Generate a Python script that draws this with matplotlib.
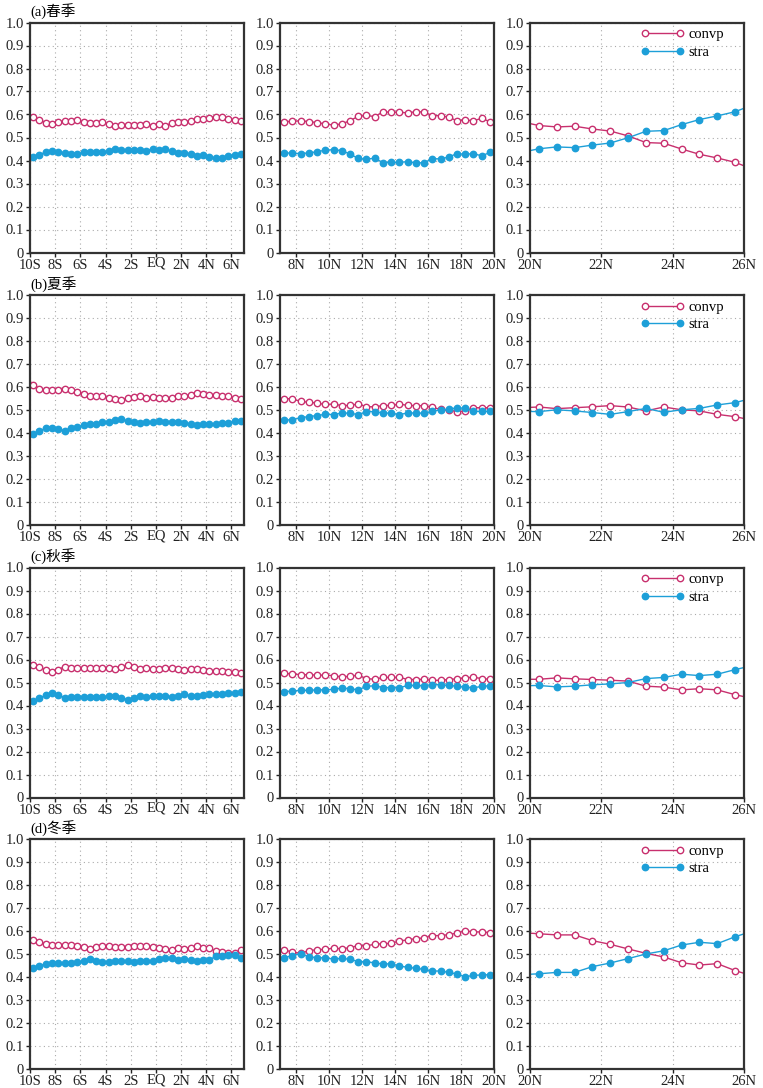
import numpy as np
import matplotlib
matplotlib.use('Agg')
from matplotlib import pyplot as plt
from matplotlib.transforms import ScaledTranslation

plt.rcParams['font.family'] = 'Liberation Serif'
plt.rcParams['font.size'] = 10.5

# latitude grid, 0.5 deg, -10.25 .. 26.25 (end points fall outside the panels)
lat = np.arange(-10.25, 26.26, 0.5)

convp_spring = [0.595,
    0.588, 0.576, 0.565, 0.559, 0.567, 0.572, 0.573, 0.575, 0.567, 0.563, 0.565, 0.566,
    0.559, 0.550, 0.556, 0.554, 0.554, 0.556, 0.560, 0.550, 0.557, 0.552, 0.562, 0.567,
    0.567, 0.573, 0.582, 0.579, 0.586, 0.591, 0.589, 0.580, 0.575, 0.573,
    0.569, 0.570, 0.573, 0.569, 0.565, 0.559, 0.554, 0.559, 0.573, 0.592, 0.596, 0.591,
    0.611, 0.610, 0.610, 0.607, 0.612, 0.611, 0.595, 0.595, 0.588, 0.573, 0.576, 0.573,
    0.583, 0.569,
    0.552, 0.546, 0.549, 0.537, 0.528, 0.507, 0.478, 0.475, 0.450, 0.427, 0.411, 0.392,
    0.362]
stra_spring = [0.405,
    0.415, 0.425, 0.437, 0.440, 0.435, 0.432, 0.430, 0.428, 0.435, 0.437, 0.437, 0.436,
    0.443, 0.452, 0.445, 0.446, 0.446, 0.445, 0.442, 0.452, 0.445, 0.449, 0.440, 0.433,
    0.433, 0.428, 0.418, 0.422, 0.415, 0.410, 0.411, 0.420, 0.425, 0.427,
    0.433, 0.432, 0.430, 0.433, 0.438, 0.445, 0.447, 0.443, 0.428, 0.409, 0.406, 0.410,
    0.391, 0.392, 0.392, 0.395, 0.390, 0.390, 0.408, 0.407, 0.415, 0.430, 0.427, 0.430,
    0.420, 0.435,
    0.451, 0.459, 0.456, 0.467, 0.476, 0.499, 0.527, 0.530, 0.556, 0.578, 0.594, 0.612,
    0.642]

convp_summer = [0.620,
    0.608, 0.593, 0.585, 0.585, 0.588, 0.592, 0.585, 0.580, 0.570, 0.563, 0.562, 0.559,
    0.553, 0.546, 0.542, 0.552, 0.557, 0.560, 0.553, 0.557, 0.552, 0.553, 0.553, 0.562,
    0.560, 0.566, 0.573, 0.569, 0.565, 0.567, 0.562, 0.560, 0.552, 0.550,
    0.549, 0.549, 0.537, 0.534, 0.530, 0.524, 0.526, 0.519, 0.520, 0.526, 0.514, 0.514,
    0.519, 0.520, 0.526, 0.520, 0.519, 0.519, 0.511, 0.503, 0.500, 0.493, 0.496, 0.510,
    0.510, 0.510,
    0.513, 0.506, 0.510, 0.514, 0.519, 0.513, 0.496, 0.513, 0.501, 0.496, 0.481, 0.471,
    0.455]
stra_summer = [0.385,
    0.395, 0.410, 0.420, 0.420, 0.417, 0.410, 0.420, 0.425, 0.435, 0.440, 0.440, 0.447,
    0.450, 0.455, 0.460, 0.452, 0.448, 0.443, 0.450, 0.447, 0.452, 0.450, 0.450, 0.447,
    0.442, 0.440, 0.434, 0.437, 0.440, 0.437, 0.443, 0.443, 0.452, 0.453,
    0.457, 0.457, 0.467, 0.471, 0.476, 0.481, 0.480, 0.487, 0.486, 0.480, 0.493, 0.493,
    0.487, 0.486, 0.480, 0.487, 0.487, 0.486, 0.494, 0.501, 0.503, 0.510, 0.507, 0.494,
    0.494, 0.494,
    0.493, 0.501, 0.496, 0.489, 0.481, 0.493, 0.507, 0.490, 0.501, 0.507, 0.522, 0.532,
    0.552]

convp_autumn = [0.585,
    0.578, 0.568, 0.555, 0.546, 0.556, 0.569, 0.562, 0.563, 0.563, 0.563, 0.563, 0.562,
    0.561, 0.560, 0.569, 0.575, 0.568, 0.560, 0.562, 0.558, 0.558, 0.561, 0.562, 0.558,
    0.553, 0.558, 0.558, 0.555, 0.552, 0.551, 0.549, 0.546, 0.545, 0.543,
    0.540, 0.537, 0.534, 0.534, 0.532, 0.532, 0.530, 0.524, 0.527, 0.532, 0.517, 0.514,
    0.522, 0.522, 0.523, 0.513, 0.513, 0.514, 0.509, 0.510, 0.513, 0.516, 0.520, 0.523,
    0.517, 0.514,
    0.514, 0.520, 0.516, 0.513, 0.510, 0.506, 0.484, 0.480, 0.468, 0.473, 0.468, 0.447,
    0.430]
stra_autumn = [0.410,
    0.420, 0.432, 0.445, 0.453, 0.447, 0.433, 0.438, 0.437, 0.437, 0.437, 0.437, 0.438,
    0.440, 0.441, 0.433, 0.426, 0.432, 0.440, 0.438, 0.443, 0.443, 0.440, 0.438, 0.443,
    0.448, 0.443, 0.443, 0.447, 0.449, 0.450, 0.452, 0.454, 0.456, 0.457,
    0.460, 0.463, 0.466, 0.466, 0.468, 0.468, 0.470, 0.476, 0.473, 0.468, 0.483, 0.486,
    0.478, 0.478, 0.477, 0.487, 0.487, 0.486, 0.491, 0.490, 0.487, 0.484, 0.480, 0.477,
    0.483, 0.486,
    0.487, 0.481, 0.484, 0.490, 0.494, 0.500, 0.517, 0.522, 0.536, 0.530, 0.536, 0.556,
    0.574]

convp_winter = [0.570,
    0.562, 0.553, 0.543, 0.538, 0.540, 0.540, 0.540, 0.536, 0.532, 0.523, 0.530, 0.535,
    0.535, 0.532, 0.532, 0.532, 0.535, 0.534, 0.534, 0.532, 0.525, 0.520, 0.516, 0.527,
    0.522, 0.528, 0.533, 0.528, 0.527, 0.511, 0.510, 0.505, 0.505, 0.516,
    0.517, 0.509, 0.503, 0.514, 0.519, 0.520, 0.526, 0.522, 0.528, 0.536, 0.536, 0.542,
    0.545, 0.546, 0.557, 0.561, 0.567, 0.570, 0.580, 0.580, 0.584, 0.591, 0.601, 0.596,
    0.596, 0.593,
    0.588, 0.583, 0.583, 0.558, 0.542, 0.522, 0.503, 0.487, 0.462, 0.452, 0.458, 0.428,
    0.404]
stra_winter = [0.430,
    0.440, 0.448, 0.457, 0.462, 0.461, 0.461, 0.461, 0.465, 0.470, 0.478, 0.471, 0.467,
    0.467, 0.470, 0.470, 0.470, 0.467, 0.468, 0.468, 0.470, 0.477, 0.481, 0.484, 0.474,
    0.480, 0.474, 0.468, 0.474, 0.474, 0.490, 0.491, 0.496, 0.496, 0.484,
    0.484, 0.493, 0.501, 0.488, 0.484, 0.483, 0.478, 0.481, 0.477, 0.467, 0.467, 0.461,
    0.457, 0.457, 0.448, 0.442, 0.438, 0.433, 0.426, 0.426, 0.420, 0.413, 0.401, 0.407,
    0.409, 0.410,
    0.414, 0.420, 0.420, 0.445, 0.461, 0.480, 0.500, 0.514, 0.539, 0.551, 0.545, 0.575,
    0.600]

titles = ['(a)春季', '(b)夏季', '(c)秋季', '(d)冬季']
convp = [convp_spring, convp_summer, convp_autumn, convp_winter]
stra = [stra_spring, stra_summer, stra_autumn, stra_winter]

xlims = [(-10, 7), (7, 20), (20, 26)]
xticks = [[-10, -8, -6, -4, -2, 0, 2, 4, 6],
          [8, 10, 12, 14, 16, 18, 20],
          [20, 22, 24, 26]]
xticklabels = [['10S', '8S', '6S', '4S', '2S', 'EQ', '2N', '4N', '6N'],
               ['8N', '10N', '12N', '14N', '16N', '18N', '20N'],
               ['20N', '22N', '24N', '26N']]
yticks = np.arange(0, 1.01, 0.1)
yticklabels = ['0'] + ['%.1f' % v for v in yticks[1:]]

pink = '#c8306e'
blue = '#1d9fd8'

W, H = 763., 1088.
fig = plt.figure(figsize=(W / 100, H / 100), dpi=100)

lefts = [30, 280, 530]
tops = [22.5, 295, 567.5, 839]
aw, ah = 214, 230

for i in range(4):
    for j in range(3):
        ax = fig.add_axes([lefts[j] / W, 1 - (tops[i] + ah) / H, aw / W, ah / H])
        ax.plot(lat, convp[i], '-o', color=pink, lw=1.0, ms=4.6,
                mfc='white', mec=pink, mew=1.0, label='convp')
        ax.plot(lat, stra[i], '-o', color=blue, lw=1.0, ms=4.6,
                mfc=blue, mec=blue, label='stra')
        ax.set_xlim(*xlims[j])
        ax.set_ylim(0, 1)
        ax.set_xticks(xticks[j])
        ax.set_xticklabels(xticklabels[j])
        ax.set_yticks(yticks)
        ax.set_yticklabels(yticklabels)
        ax.grid(True, ls=(0, (1, 3)), color='#aaaaaa', lw=0.8)
        ax.tick_params(direction='out', length=3, width=1, pad=1.5, colors='#222222')
        for s in ax.spines.values():
            s.set_linewidth(1.6)
            s.set_color('#333333')
        if j == 0:
            # the EQ label sits low with this font, lift it to the others
            eq = ax.get_xticklabels()[5]
            eq.set_transform(eq.get_transform() +
                             ScaledTranslation(0, 1.3 / 72, fig.dpi_scale_trans))
            ax.text(0.0, 1.01, titles[i], transform=ax.transAxes, ha='left', va='bottom',
                    fontsize=10.5, family=['Liberation Serif', 'Noto Sans CJK SC'])
        if j == 2:
            ax.legend(loc='upper right', bbox_to_anchor=(0.955, 1.02), frameon=False,
                      numpoints=2, handlelength=3.0, handletextpad=0.3,
                      labelspacing=0.3, borderaxespad=0.3, fontsize=10.5)

plt.savefig('out.png', dpi=100)
